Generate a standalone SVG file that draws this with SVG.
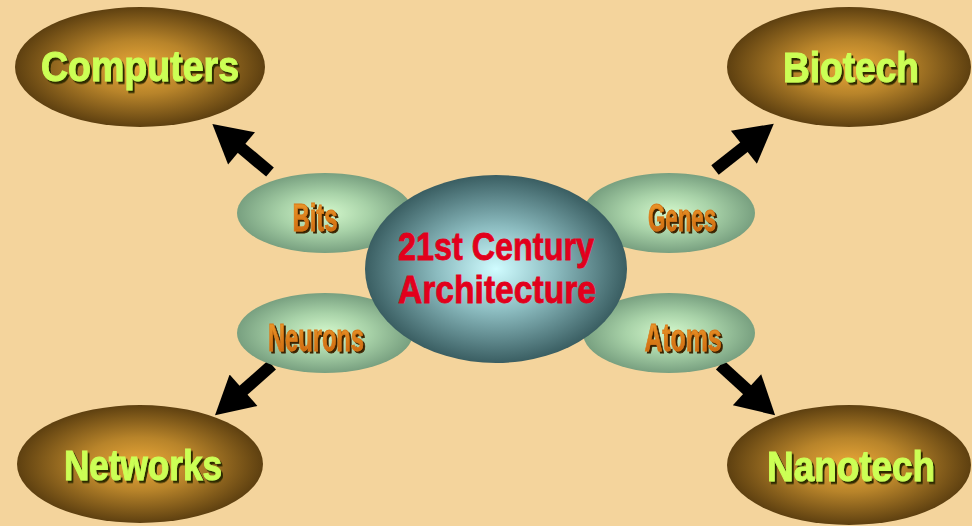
<svg xmlns="http://www.w3.org/2000/svg" width="972" height="526" viewBox="0 0 972 526">
<defs>
<radialGradient id="gOuter" cx="0.5" cy="0.5" r="0.5">
<stop offset="0" stop-color="#EAA838"/>
<stop offset="0.45" stop-color="#B8842A"/>
<stop offset="1" stop-color="#5E4010"/>
</radialGradient>
<radialGradient id="gInner" cx="0.5" cy="0.5" r="0.5">
<stop offset="0" stop-color="#D4F8CC"/>
<stop offset="0.5" stop-color="#A8D2A8"/>
<stop offset="1" stop-color="#78A080"/>
</radialGradient>
<radialGradient id="gCenter" cx="0.5" cy="0.5" r="0.5">
<stop offset="0" stop-color="#D0FCFF"/>
<stop offset="0.45" stop-color="#8CBCC0"/>
<stop offset="1" stop-color="#3A5E62"/>
</radialGradient>
<linearGradient id="gOrange" x1="0" y1="0" x2="0" y2="1">
<stop offset="0" stop-color="#F0A030"/>
<stop offset="1" stop-color="#C86008"/>
</linearGradient>
<filter id="shOuter" x="-10%" y="-20%" width="120%" height="150%">
<feDropShadow dx="2" dy="2.5" stdDeviation="0.4" flood-color="#2E2A00" flood-opacity="1"/>
</filter>
<filter id="shInner" x="-10%" y="-20%" width="120%" height="150%">
<feDropShadow dx="2" dy="2" stdDeviation="0.4" flood-color="#3A2400" flood-opacity="1"/>
</filter>
<marker id="head" markerUnits="userSpaceOnUse" markerWidth="40" markerHeight="42" viewBox="0 0 38 42" refX="2" refY="21" orient="auto">
<path d="M0,0 L38,21 L0,42 Z" fill="#000"/>
</marker>
<style>
.outer{fill:url(#gOuter);}
.inner{fill:url(#gInner);}
.center{fill:url(#gCenter);}
.lblO{font-family:"Liberation Sans Narrow","Liberation Sans",Arial,sans-serif;font-weight:bold;font-size:42px;fill:#CCFF55;stroke:#CCFF55;stroke-width:1;text-anchor:middle;filter:url(#shOuter);}
.lblI{font-family:"Liberation Sans Narrow","Liberation Sans",Arial,sans-serif;font-weight:bold;font-size:39px;fill:url(#gOrange);stroke:#D87818;stroke-width:0.8;text-anchor:middle;filter:url(#shInner);}
.lblC{font-family:"Liberation Sans Narrow","Liberation Sans",Arial,sans-serif;font-weight:bold;font-size:39px;fill:#E2001C;stroke:#E2001C;stroke-width:0.8;text-anchor:middle;}
.arrow{stroke:#000;stroke-width:12;fill:none;marker-end:url(#head);}
</style>
</defs>
<rect x="0" y="0" width="972" height="526" fill="#F4D49C"/>

<g id="connectors">
<line class="arrow" x1="270" y1="172" x2="240" y2="147"/>
<line class="arrow" x1="715" y1="170" x2="745.5" y2="146"/>
<line class="arrow" x1="272" y1="365" x2="242" y2="391.5"/>
<line class="arrow" x1="720" y1="365" x2="748.5" y2="391"/>
</g>

<g id="computers">
<ellipse class="outer" cx="140" cy="67" rx="125" ry="60"/>
<text class="lblO" x="140" y="81" textLength="198" lengthAdjust="spacingAndGlyphs">Computers</text>
</g>
<g id="biotech">
<ellipse class="outer" cx="849" cy="67" rx="122" ry="60"/>
<text class="lblO" x="851" y="82" textLength="136" lengthAdjust="spacingAndGlyphs">Biotech</text>
</g>
<g id="networks">
<ellipse class="outer" cx="140" cy="464" rx="123" ry="59"/>
<text class="lblO" x="143" y="480" textLength="158" lengthAdjust="spacingAndGlyphs">Networks</text>
</g>
<g id="nanotech">
<ellipse class="outer" cx="849" cy="465" rx="122" ry="60"/>
<text class="lblO" x="851" y="481" textLength="168" lengthAdjust="spacingAndGlyphs">Nanotech</text>
</g>

<g id="bits">
<ellipse class="inner" cx="325" cy="213" rx="88" ry="40"/>
<text class="lblI" x="315" y="231" textLength="45" lengthAdjust="spacingAndGlyphs">Bits</text>
</g>
<g id="neurons">
<ellipse class="inner" cx="325" cy="333" rx="88" ry="40"/>
<text class="lblI" x="316" y="351" textLength="96" lengthAdjust="spacingAndGlyphs">Neurons</text>
</g>
<g id="genes">
<ellipse class="inner" cx="669" cy="213" rx="86" ry="40"/>
<text class="lblI" x="682" y="231" textLength="68" lengthAdjust="spacingAndGlyphs">Genes</text>
</g>
<g id="atoms">
<ellipse class="inner" cx="669" cy="333" rx="86" ry="40"/>
<text class="lblI" x="683" y="351" textLength="77" lengthAdjust="spacingAndGlyphs">Atoms</text>
</g>

<g id="architecture">
<ellipse class="center" cx="496" cy="269" rx="131" ry="94"/>
<text class="lblC" x="496" y="260" textLength="196" lengthAdjust="spacingAndGlyphs">21st Century</text>
<text class="lblC" x="497" y="303" textLength="198" lengthAdjust="spacingAndGlyphs">Architecture</text>
</g>
</svg>
